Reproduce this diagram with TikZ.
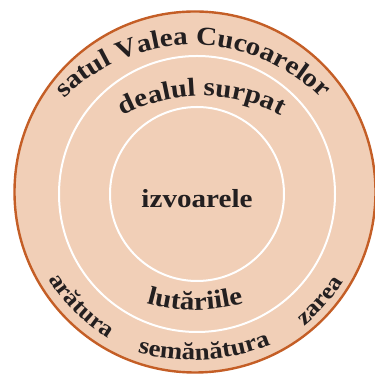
\documentclass[tikz,border=0pt]{standalone}
\usepackage{fontspec}
\setmainfont{Liberation Serif}[FakeStretch=1.12]
\usepackage{tikz}
\usetikzlibrary{decorations.text}
\definecolor{ringfill}{RGB}{241,207,183}
\definecolor{ringedge}{RGB}{196,94,38}
\definecolor{inkdark}{RGB}{35,31,32}

\begin{document}
\begin{tikzpicture}[x=1pt,y=1pt,
    ring/.style={draw=white, line width=2pt},
    arctext/.style 2 args={decorate, decoration={text along path, text align=center,
        text color=inkdark, text={|\fontsize{#1}{#1}\selectfont\bfseries|#2}}}]
		\useasboundingbox (0,0) rectangle (375,374);
		\fill[ringfill] (195,182) circle[radius=181];
		\draw[ringedge, line width=2.4pt] (195,182) circle[radius=180.5];
		\draw[ring] (197,180) circle[radius=138];
		\draw[ring] (197,180) circle[radius=87];
		% texts along the rings
		\path[arctext={26pt}{satul Valea Cucoarelor}] (193,149) ++(160:180) arc[start angle=160, end angle=20, radius=180];
		\path[arctext={26pt}{dealul surpat}] (202,108) ++(150:170) arc[start angle=150, end angle=30, radius=170];
		\node[font=\fontsize{26pt}{26pt}\selectfont\bfseries, text=inkdark, anchor=base] (izvoare) at (197,166) {izvoarele};
		\path[arctext={26pt}{lutăriile}] (195,244) ++(235:180) arc[start angle=235, end angle=305, radius=180];
		\path[arctext={24pt}{semănătura}] (192,224) ++(238.5:210) arc[start angle=238.5, end angle=308.5, radius=210];
		\path[arctext={23pt}{arătura}] (195,182) ++(195:170) arc[start angle=195, end angle=255, radius=170];
		\path[arctext={23pt}{zarea}] (195,182) ++(299:173) arc[start angle=299, end angle=339, radius=173];
	\end{tikzpicture}
\end{document}
